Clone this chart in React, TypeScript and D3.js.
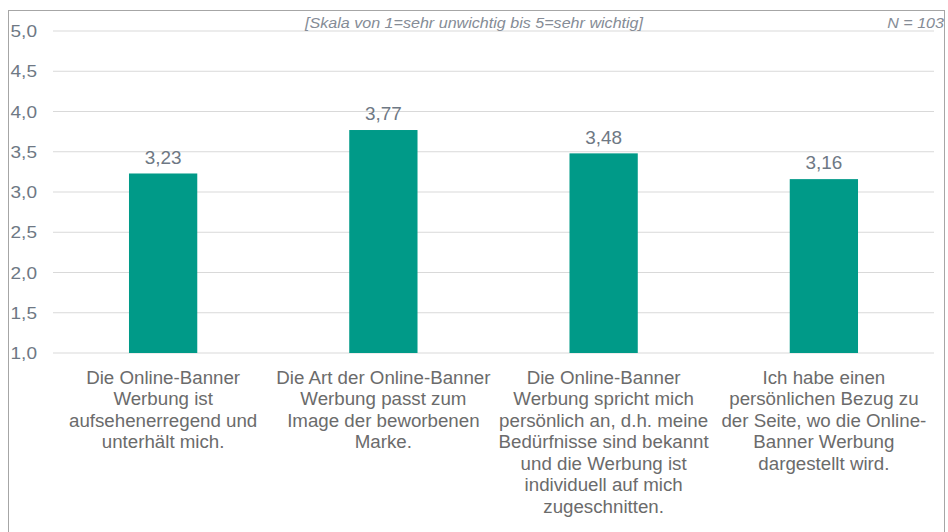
import React from "react";
import * as d3 from "d3";

const categories: string[][] = [
  ["Die Online-Banner", "Werbung ist", "aufsehenerregend und", "unterhält mich."],
  ["Die Art der Online-Banner", "Werbung passt zum", "Image der beworbenen", "Marke."],
  ["Die Online-Banner", "Werbung spricht mich", "persönlich an, d.h. meine", "Bedürfnisse sind bekannt", "und die Werbung ist", "individuell auf mich", "zugeschnitten."],
  ["Ich habe einen", "persönlichen Bezug zu", "der Seite, wo die Online-", "Banner Werbung", "dargestellt wird."],
];
const values: number[] = [3.23, 3.77, 3.48, 3.16];
const yTicks: number[] = [1.0, 1.5, 2.0, 2.5, 3.0, 3.5, 4.0, 4.5, 5.0];
const subtitle = "[Skala von 1=sehr unwichtig bis 5=sehr wichtig]";
const nLabel = "N = 103";

const W = 948;
const H = 532;
const FONT = "'Liberation Sans', Arial, sans-serif";

const tr = (x: number, y: number, sx: number) => `translate(${x},${y}) scale(${sx},1)`;

export default function App() {
  const x = d3
    .scaleBand<number>()
    .domain(values.map((_, i) => i))
    .range([53, 934])
    .paddingInner(0.69)
    .paddingOuter(0.345);
  const y = d3.scaleLinear().domain([1, 5]).range([353, 31]);
  const fmt = (v: number, d: number) => v.toFixed(d).replace(".", ",");

  return (
    <svg
      width={W}
      height={H}
      style={{ position: "fixed", left: 0, top: 0, background: "#fff" }}
      fontFamily={FONT}
    >
      <rect x={8.5} y={10.5} width={936} height={530} fill="#fff" stroke="#A6A6A6" strokeWidth={1} />
      {yTicks.map((t) => (
        <g key={t}>
          <line x1={53} x2={934} y1={y(t)} y2={y(t)} stroke="#D9D9D9" strokeWidth={1} />
          <text transform={tr(37, y(t) + 6.2, 1.12)} textAnchor="end" fontSize={17} fill="#6E7884">
            {fmt(t, 1)}
          </text>
        </g>
      ))}
      <text transform={tr(474, 28, 1.15)} textAnchor="middle" fontSize={14} fontStyle="italic" fill="#858C96">
        {subtitle}
      </text>
      <text transform={tr(944, 28, 1.15)} textAnchor="end" fontSize={14} fontStyle="italic" fill="#858C96">
        {nLabel}
      </text>
      {values.map((v, i) => {
        const bx = x(i)!;
        const bw = x.bandwidth();
        const cx = bx + bw / 2;
        return (
          <g key={i}>
            <rect x={bx} y={y(v)} width={bw} height={y(1) - y(v)} fill="#009A88" />
            <text transform={tr(cx, y(v) - 9.7, 1.07)} textAnchor="middle" fontSize={17.7} fill="#6E7884">
              {fmt(v, 2)}
            </text>
            <text transform={tr(cx, 383.5, 1.07)} textAnchor="middle" fontSize={17.5} fill="#6B6B6B">
              {categories[i].map((line, j) => (
                <tspan key={j} x={0} y={j * 21.6}>
                  {line}
                </tspan>
              ))}
            </text>
          </g>
        );
      })}
    </svg>
  );
}
